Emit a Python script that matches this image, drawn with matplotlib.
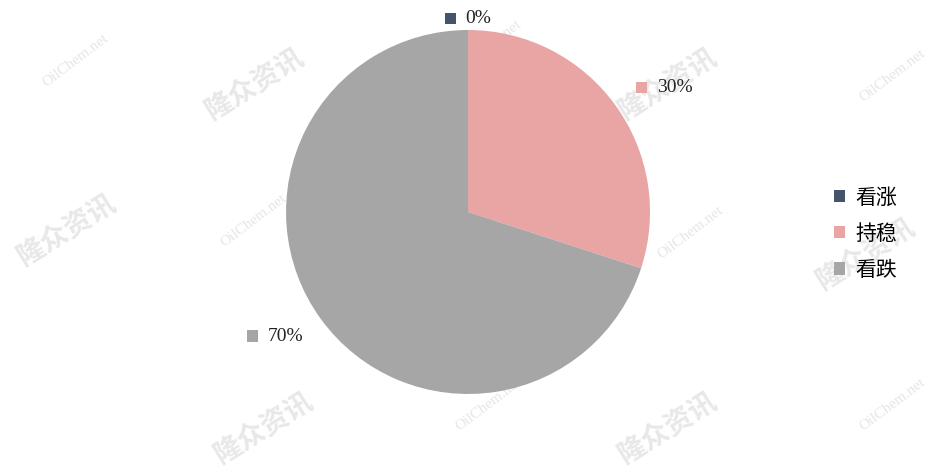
import numpy as np
import matplotlib.pyplot as plt
from matplotlib.patches import Rectangle, Patch
from matplotlib.offsetbox import HPacker, TextArea, DrawingArea, AnnotationBbox

plt.rcParams['font.family'] = ['Noto Sans CJK SC', 'DejaVu Sans']

# data
categories = ['看涨', '持稳', '看跌']
values = [0, 30, 70]
colors = ['#44546A', '#E8A5A3', '#A6A6A6']

# watermark spots (figure fractions)
wm_cn = [(0.27, 0.82), (0.71, 0.82), (0.07, 0.51), (0.48, 0.50), (0.92, 0.46),
         (0.28, 0.09), (0.71, 0.09)]
wm_en = [(0.08, 0.87), (0.52, 0.90), (0.95, 0.84), (0.27, 0.53), (0.735, 0.505),
         (0.52, 0.14), (0.95, 0.14)]

fig = plt.figure(figsize=(9.4, 4.7), dpi=100)
ax = fig.add_axes([0.3043, 0.1617, 0.3872, 0.7745])

wedges, _ = ax.pie(values, colors=colors, startangle=90, counterclock=False,
                   radius=1.0)
ax.set_xlim(-1, 1)
ax.set_ylim(-1, 1)
ax.set_aspect('equal')
ax.axis('off')

# data labels with coloured key, placed outside each slice
total = float(sum(values))
cum = 0.0
for val, col in zip(values, colors):
    mid = 90 - 360 * (cum + val / 2) / total
    cum += val
    rad = np.deg2rad(mid)
    x, y = 1.12 * np.cos(rad), 1.12 * np.sin(rad)
    da = DrawingArea(8, 8, 0, 0)
    da.add_artist(Rectangle((0, 0), 8, 8, fc=col, ec='none'))
    ta = TextArea('%d%%' % val, textprops=dict(fontsize=14, color='#222222',
                                               family=['Liberation Serif']))
    box = HPacker(children=[da, ta], align='center', pad=0, sep=7)
    if abs(np.cos(rad)) < 0.2:
        align = (0.5, 1.1)
    elif np.cos(rad) > 0:
        align = (-0.05, 0.2)
    else:
        align = (1.0, 0.75)
    ab = AnnotationBbox(box, (x, y), xycoords='data', box_alignment=align,
                        frameon=False, pad=0, annotation_clip=False)
    ax.add_artist(ab)

handles = [Patch(facecolor=c, edgecolor='none') for c in colors]
fig.legend(handles, categories, loc='center left', bbox_to_anchor=(0.876, 0.503),
           frameon=False, fontsize=15, handlelength=0.55, handleheight=0.55,
           handletextpad=0.5, labelspacing=0.68, borderpad=0)

# watermarks (behind the pie)
for (wx, wy) in wm_cn:
    fig.text(wx, wy, '隆众资讯', fontsize=20, fontweight='bold', color='#D5D5D5',
             alpha=0.55, rotation=32, ha='center', va='center', zorder=-1)
for (wx, wy) in wm_en:
    fig.text(wx, wy, 'OilChem.net', fontsize=11, color='#D5D5D5', alpha=0.6,
             family=['Liberation Serif'], rotation=37, ha='center', va='center',
             zorder=-1)

fig.savefig('out.png', dpi=100)
